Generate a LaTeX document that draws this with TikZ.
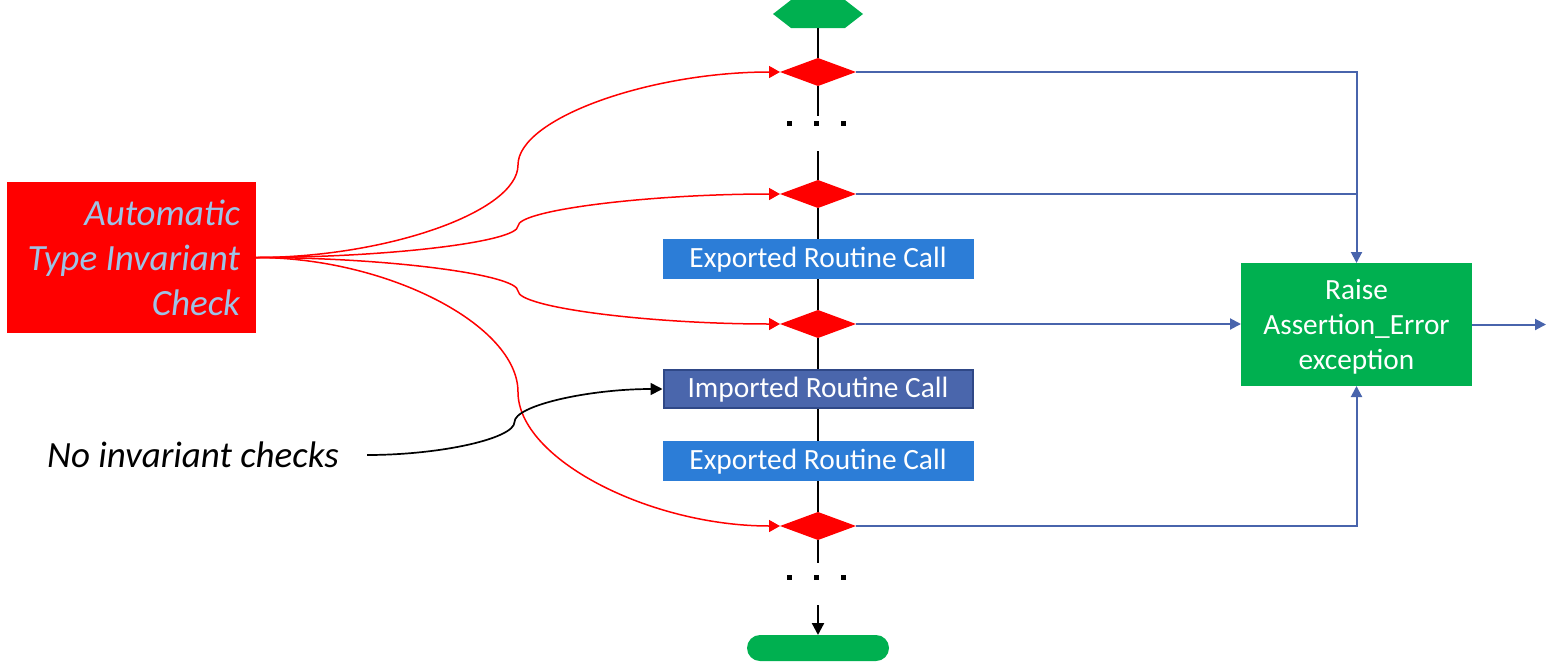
\documentclass[tikz,border=0pt]{standalone}
\usepackage{fontspec}
\setmainfont{Carlito}
\usetikzlibrary{shapes.geometric,arrows.meta,calc}
\definecolor{cred}{RGB}{255,0,0}
\definecolor{cgreen}{RGB}{0,176,80}
\definecolor{cexp}{RGB}{44,125,215}
\definecolor{cimp}{RGB}{74,102,172}
\definecolor{cimpb}{RGB}{47,72,135}
\definecolor{cline}{RGB}{72,100,172}
\definecolor{ctxt}{RGB}{157,195,230}
\begin{document}
\begin{tikzpicture}[x=1pt,y=-1pt,
  dec/.style={diamond,fill=cred,minimum width=76pt,minimum height=28pt,inner sep=0pt,outer sep=0pt},
  callbox/.style={rectangle,minimum width=311pt,minimum height=40pt,inner sep=0pt,outer sep=0pt,text=white,font=\fontsize{29.4}{35}\selectfont,text height=20pt,text depth=3.4pt},
  expbox/.style={callbox,fill=cexp},
  impbox/.style={callbox,fill=cimp,draw=cimpb,line width=2pt,minimum width=309pt,minimum height=38pt,outer sep=1pt},
  flow/.style={line width=2.2pt,black},
  flowarrow/.style={flow,-{Triangle[length=12pt,width=12pt]}},
  redc/.style={draw=cred,line width=1.5pt,-{Triangle[length=11pt,width=12pt]}},
  bluel/.style={draw=cline,line width=2pt},
  bluea/.style={bluel,-{Triangle[length=11pt,width=11pt]}},
  dotmark/.style={rectangle,fill=black,minimum size=5pt,inner sep=0pt},
  termshape/.style={minimum width=90pt,minimum height=28pt,inner sep=0pt,outer sep=0pt},
]
\useasboundingbox (0,0) rectangle (1559,662);

% start terminal (hexagon)
\node[termshape] (start) at (818,14) {};
\fill[cgreen] (start.west) -- ++(18,-14) -- ++(54,0) -- ++(18,14) -- ++(-18,14) -- ++(-54,0) -- cycle;

% decisions
\node[dec] (d1) at (818,72) {};
\node[dec] (d2) at (818,194) {};
\node[dec] (d3) at (818,324) {};
\node[dec] (d4) at (818,526) {};

% call boxes
\node[expbox] (e1) at (818,259) {Exported Routine Call};
\node[impbox] (imp) at (818,389) {Imported Routine Call};
\node[expbox] (e2) at (818,461) {Exported Routine Call};

% end terminal
\node[rectangle,rounded corners=13pt,fill=cgreen,minimum width=142pt,minimum height=26pt,inner sep=0pt,outer sep=0pt] (end) at (818,648) {};

% gap coordinates
\coordinate (g1) at (818,116);
\coordinate (g2) at (818,151);
\coordinate (g3) at (818,563);
\coordinate (g4) at (818,605);

% ellipsis dots
\node[dotmark] (dt1) at (789.5,123.3) {};
\node[dotmark] (dt2) at (816.8,123.3) {};
\node[dotmark] (dt3) at (843.8,123.3) {};
\node[dotmark] (dt4) at (789.5,577) {};
\node[dotmark] (dt5) at (816.8,577) {};
\node[dotmark] (dt6) at (843.8,577) {};

% main flow
\draw[flow] (start.south) -- (d1.north);
\draw[flow] (d1.south) -- (g1);
\draw[flow] (g2) -- (d2.north);
\draw[flow] (d2.south) -- (e1.north);
\draw[flow] (e1.south) -- (d3.north);
\draw[flow] (d3.south) -- (imp.north);
\draw[flow] (imp.south) -- (e2.north);
\draw[flow] (e2.south) -- (d4.north);
\draw[flow] (d4.south) -- (g3);
\draw[flowarrow] (g4) -- (end.north);

% raise box
\node[rectangle,fill=cgreen,minimum width=231pt,minimum height=123pt,inner sep=0pt,outer sep=0pt,text=white,align=center,text depth=0pt,font=\fontsize{29.3}{35}\selectfont] (raise) at (1356.5,324.5) {Raise\\Assertion\_Error\\exception};
\coordinate (out) at (1546,324.5);

\draw[bluea] (d1.east) -| (raise.north);
\draw[bluel] (d2.east) -- (d2.east -| raise.north);
\draw[bluea] (d3.east) -- (d3.east -| raise.west);
\draw[bluea] (d4.east) -| (raise.south);
\draw[bluea] (raise.east) -- (out);

% invariant check box
\node[rectangle,fill=cred,minimum width=249pt,minimum height=151pt,inner xsep=16pt,inner ysep=0pt,outer sep=0pt,text width=217pt,align=flush right,text=ctxt,font=\fontsize{37}{45}\selectfont\itshape] (chk) at (131.5,257.5) {Automatic\\Type Invariant\\Check};

\coordinate (m1) at (518,165);
\coordinate (m2) at (518,226);
\coordinate (m3) at (518,291);
\coordinate (m4) at (518,392);

\draw[redc] (chk.east) .. controls +(131,0) and +(0,46.5) .. (m1) .. controls +(0,-46.5) and +(-130.5,0) .. (d1.west);
\draw[redc] (chk.east) .. controls +(131,0) and +(0,16) .. (m2) .. controls +(0,-16) and +(-130.5,0) .. (d2.west);
\draw[redc] (chk.east) .. controls +(131,0) and +(0,-16.5) .. (m3) .. controls +(0,16.5) and +(-130.5,0) .. (d3.west);
\draw[redc] (chk.east) .. controls +(131,0) and +(0,-67) .. (m4) .. controls +(0,67) and +(-130.5,0) .. (d4.west);

% no invariant checks
\node[font=\fontsize{37}{45}\selectfont\itshape,inner sep=0pt,anchor=west] (noinv) at (47,455) {No invariant checks};
\coordinate (ncs) at (367,455);
\coordinate (nm) at (514.5,422);
\draw[line width=1.7pt,-{Triangle[length=12pt,width=12pt]}] (ncs) .. controls +(73.75,0) and +(0,16.5) .. (nm) .. controls +(0,-16.5) and +(-73.75,0) .. (imp.west);
\end{tikzpicture}
\end{document}
